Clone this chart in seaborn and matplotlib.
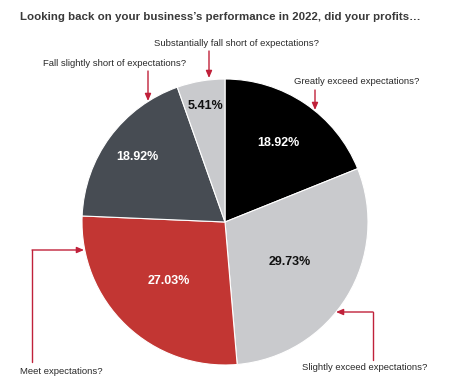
import numpy as np
import seaborn as sns
import matplotlib.pyplot as plt

# survey answers, clockwise from 12 o'clock
categories = [
    "Greatly exceed expectations?",
    "Slightly exceed expectations?",
    "Meet expectations?",
    "Fall slightly short of expectations?",
    "Substantially fall short of expectations?",
]
shares = [18.92, 29.73, 27.03, 18.92, 5.41]
pct_labels = ["18.92%", "29.73%", "27.03%", "18.92%", "5.41%"]

colors = ["#000000", "#c9cacd", "#c23633", "#474c53", "#c9cacd"]
pct_colors = ["white", "#111111", "white", "white", "#111111"]
pct_radius = [0.67, 0.53, 0.57, 0.76, 0.82]

sns.set_theme(style="white")
plt.rcParams["font.family"] = ["Liberation Sans", "DejaVu Sans"]

W, H = 450, 390
fig = plt.figure(figsize=(4.5, 3.9), dpi=100)
ax = fig.add_axes([0, 0, 1, 1])

cx, cy, r = 225, H - 222, 143
wedges, _ = ax.pie(shares, colors=colors, startangle=90, counterclock=False,
                   center=(cx, cy), radius=r, frame=True,
                   wedgeprops=dict(linewidth=0.8, edgecolor="white"))
ax.set_xlim(0, W)
ax.set_ylim(0, H)
ax.set_aspect("equal")
ax.axis("off")

for w, lab, c, f in zip(wedges, pct_labels, pct_colors, pct_radius):
    ang = np.deg2rad((w.theta1 + w.theta2) / 2)
    ax.text(cx + f * r * np.cos(ang), cy + f * r * np.sin(ang), lab,
            color=c, fontsize=9, fontweight="bold", ha="center", va="center")

fig.text(20 / W, 1 - 17 / H, "Looking back on your business\u2019s performance in 2022, did your profits\u2026",
         fontsize=8.25, fontweight="bold", color="#3a3a3a", va="center", ha="left")

red = "#c0213a"
txt = "#2a2a2a"
fs = 6.8
ap = dict(arrowstyle="-|>,head_length=0.35,head_width=0.15", color=red, lw=1.0,
          shrinkA=0, shrinkB=0)

def y(p):
    return H - p

# straight arrows from labels above the pie
ax.text(236, y(43), categories[4], fontsize=fs, color=txt, ha="center", va="center")
ax.annotate("", xy=(209, y(78)), xytext=(209, y(51)), arrowprops=ap)

ax.text(115, y(63), categories[3], fontsize=fs, color=txt, ha="center", va="center")
ax.annotate("", xy=(148, y(101)), xytext=(148, y(71)), arrowprops=ap)

ax.text(357, y(82), categories[0], fontsize=fs, color=txt, ha="center", va="center")
ax.annotate("", xy=(315, y(110)), xytext=(315, y(90)), arrowprops=ap)

# elbow arrows from labels below the pie
ax.text(20, y(371), categories[2], fontsize=fs, color=txt, ha="left", va="center")
ax.plot([32, 32], [y(362), y(250)], color=red, lw=1.0)
ax.annotate("", xy=(84, y(250)), xytext=(32, y(250)), arrowprops=ap)

ax.text(302, y(368), categories[1], fontsize=fs, color=txt, ha="left", va="center")
ax.plot([373, 373], [y(360), y(312)], color=red, lw=1.0)
ax.annotate("", xy=(336, y(312)), xytext=(373, y(312)), arrowprops=ap)

fig.savefig("out.png", dpi=100, facecolor="white")
